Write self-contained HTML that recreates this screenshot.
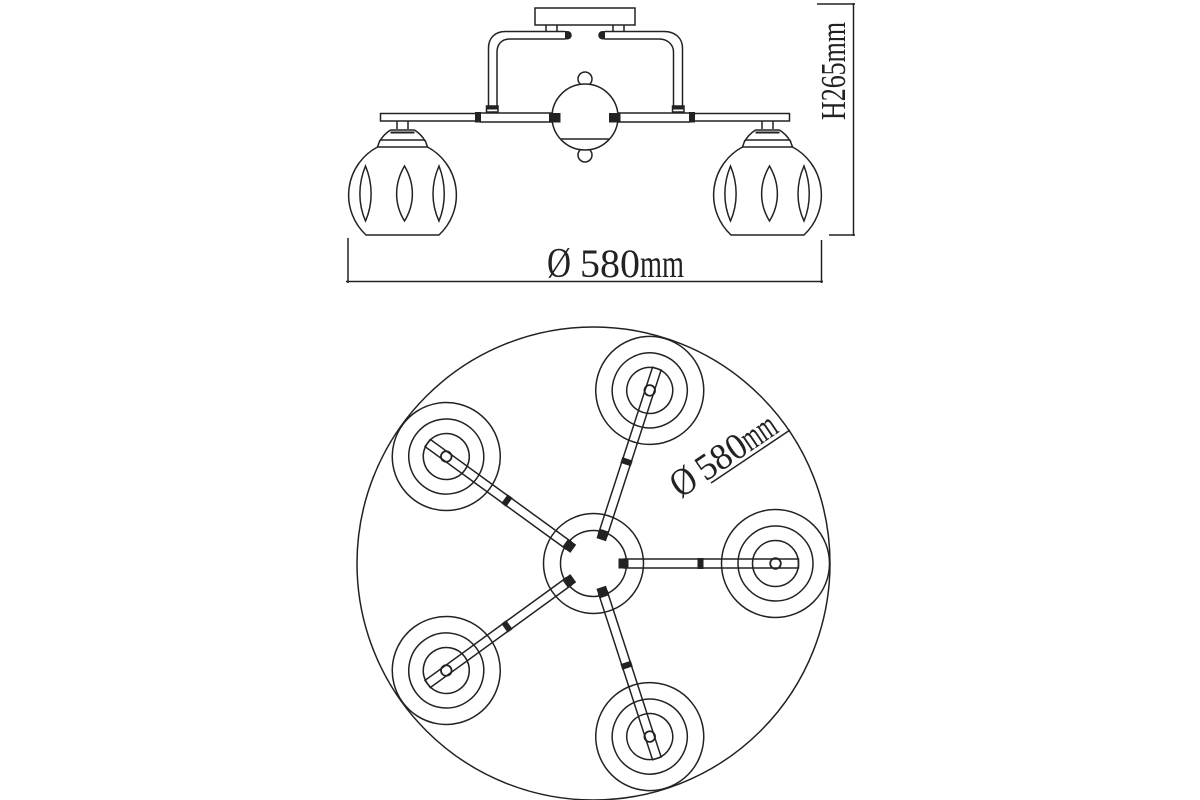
<!DOCTYPE html>
<html><head><meta charset="utf-8"><style>html,body{margin:0;padding:0;background:#fff}svg{display:block}</style></head><body>
<svg width="1200" height="800" viewBox="0 0 1200 800" xmlns="http://www.w3.org/2000/svg" fill="none" stroke="#222" stroke-width="1.5">
<defs>
<g id="shade">
<path d="M397 121.500V129M408 121.500V129"/>
<path d="M390.500 130H414.500M390.500 130C386 133 382 137 380 141M414.500 130C419 133 423 137 425 141M380 140H425M380 140L377.500 147H427.500L425 140" />
<path d="M390.500 132.500H414.500" stroke-width="2"/>
<path d="M377.500 147A54.500 54.500 0 0 0 366 235H439A54.500 54.500 0 0 0 427.500 147"/>
<path d="M365.500 166C358 184 358 204 365.500 221C373 204 373 184 365.500 166Z"/>
<path d="M404.500 166C394 184 394 204 404.500 221C415 204 415 184 404.500 166Z"/>
<path d="M439 166C431 184 431 204 439 221C446 204 446 184 439 166Z"/>
</g>
<g id="arm">
<path d="M30 -4.500H205V4.500H30"/>
<rect x="25" y="-5" width="10" height="10" fill="#222" stroke="none"/>
<rect x="104" y="-5.500" width="6" height="11" fill="#222" stroke="none"/>
<circle cx="182" cy="0" r="23"/>
<circle cx="182" cy="0" r="37.500"/>
<circle cx="182" cy="0" r="54"/>
<circle cx="182" cy="0" r="5.300" stroke-width="1.800"/>
</g>
</defs>

<!-- canopy -->
<rect x="535" y="8" width="100" height="17"/>
<path d="M546 25V31M557 25V31M613 25V31M624 25V31"/>
<path d="M565 31.500H505.500C495 31.500 488.500 38 488.500 48V106M565 39H510C501 39 497 45 497 52V106"/>
<path d="M605 31.500H664C675 31.500 682.500 38 682.500 48V106M605 39H659C668 39 673.500 45 673.500 52V106"/>
<path d="M565 31H567.500a4 4 0 0 1 0 8.500H565Z" fill="#222" stroke="none"/>
<path d="M605 31H602.500a4 4 0 0 0 0 8.500H605Z" fill="#222" stroke="none"/>
<rect x="486.500" y="106" width="11.500" height="6"/><rect x="486.500" y="106" width="11.500" height="3.500" fill="#222" stroke="none"/>
<rect x="672.500" y="106" width="11.500" height="6"/><rect x="672.500" y="106" width="11.500" height="3.500" fill="#222" stroke="none"/>

<!-- bars -->
<path d="M480 113H553M480 122H553M617 113H690M617 122H690"/>
<path d="M475 113.500H380.500V121H475M695 113.500H789.500V121H695"/>
<use href="#shade"/>
<use href="#shade" transform="translate(365 0)"/>
<rect x="475" y="112" width="6" height="10.500" fill="#222" stroke="none"/>
<rect x="689" y="112" width="6" height="10.500" fill="#222" stroke="none"/>

<!-- hub side view -->
<circle cx="585" cy="79" r="7"/>
<circle cx="585" cy="155" r="7"/>
<circle cx="585" cy="117" r="33" fill="#fff"/>
<path d="M561 139H609"/>
<rect x="549" y="113" width="11.500" height="9.500" fill="#222" stroke="none"/>
<rect x="609" y="113" width="11.500" height="9.500" fill="#222" stroke="none"/>

<!-- dims -->
<path d="M348 238V283M346 281.500H823M821.500 240V283M817 4H855M853.500 3V236M829 235H855"/>
<g fill="#222" stroke="none" font-family="'Liberation Serif',serif">
<text x="547" y="277" font-size="42" textLength="24" lengthAdjust="spacingAndGlyphs">Ø</text>
<text x="580" y="277" font-size="40" textLength="60" lengthAdjust="spacingAndGlyphs">580</text>
<text x="640" y="277" font-size="40" textLength="44" lengthAdjust="spacingAndGlyphs">mm</text>
<text transform="translate(845 120) rotate(-90)" font-size="35" textLength="98" lengthAdjust="spacingAndGlyphs">H265mm</text>
<g transform="translate(680.600 498.700) rotate(-34)">
<text x="0" y="0" font-size="39" textLength="24" lengthAdjust="spacingAndGlyphs">Ø</text>
<text x="30" y="0" font-size="37" textLength="54" lengthAdjust="spacingAndGlyphs">580</text>
<text x="84" y="0" font-size="37" textLength="36" lengthAdjust="spacingAndGlyphs">mm</text>
</g>
</g>
<path d="M711 483L790 430"/>

<!-- plan view -->
<circle cx="593.500" cy="563.500" r="236.500"/>
<circle cx="593.500" cy="563.500" r="50"/>
<circle cx="593.500" cy="563.500" r="33"/>
<use href="#arm" transform="translate(593.500 563.500)"/>
<use href="#arm" transform="translate(593.500 563.500) rotate(-72)"/>
<use href="#arm" transform="translate(593.500 563.500) rotate(-144)"/>
<use href="#arm" transform="translate(593.500 563.500) rotate(144)"/>
<use href="#arm" transform="translate(593.500 563.500) rotate(72)"/>
</svg>
</body></html>
